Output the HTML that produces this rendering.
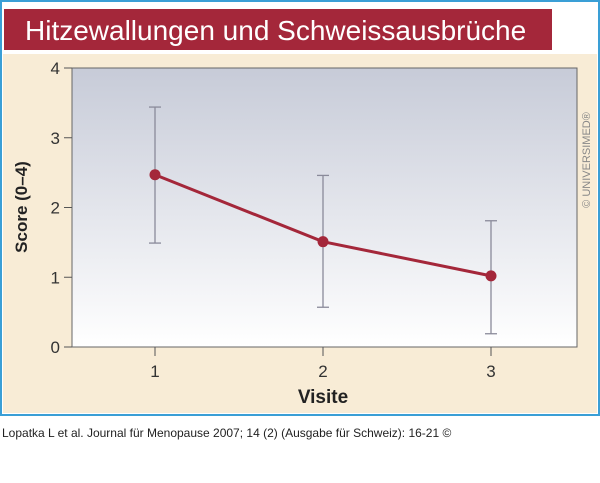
<!DOCTYPE html>
<html><head><meta charset="utf-8"><style>
body{margin:0;width:600px;height:478px;background:#fff;overflow:hidden;font-family:"Liberation Sans",sans-serif}
</style></head><body>
<svg width="600" height="478" xmlns="http://www.w3.org/2000/svg">
<defs><linearGradient id="g" x1="0" y1="0" x2="0" y2="1"><stop offset="0" stop-color="#c7cbd8"/><stop offset="1" stop-color="#ffffff"/></linearGradient></defs>
<rect x="1" y="1" width="598" height="414" fill="#fff" stroke="#3a9fd6" stroke-width="2"/>
<rect x="4" y="9" width="548" height="41" fill="#a4273a"/>
<text x="25" y="40" fill="#fff" font-size="28" font-family="Liberation Sans, sans-serif">Hitzewallungen und Schweissausbrüche</text>
<rect x="3" y="54" width="594" height="359" fill="#f8ecd6"/>
<rect x="72" y="68" width="505" height="279" fill="url(#g)" stroke="#666" stroke-width="1"/>
<text transform="translate(590,160) rotate(-90)" text-anchor="middle" font-size="11" fill="#888">© UNIVERSIMED®</text>
<g id="axes"></g><g id="marks"></g>
<text x="323" y="403" text-anchor="middle" font-size="19" font-weight="bold" fill="#222">Visite</text>
<text transform="translate(27,207) rotate(-90)" text-anchor="middle" font-size="17" font-weight="bold" fill="#222">Score (0–4)</text>
<text x="2" y="437" font-size="12" fill="#222">Lopatka L et al. Journal für Menopause 2007; 14 (2) (Ausgabe für Schweiz): 16-21 ©</text>
</svg>
<script>
const categories=["1","2","3"];
const means=[2.47,1.51,1.02];
const lows=[1.49,0.57,0.19];
const highs=[3.44,2.46,1.81];
const yTicks=[0,1,2,3,4];
const NS="http://www.w3.org/2000/svg";
const xs=i=>155+i*168, ys=v=>347-v*69.75;
function mk(t,a,p){const e=document.createElementNS(NS,t);for(const k in a)e.setAttribute(k,a[k]);p.appendChild(e);return e;}
const ax=document.getElementById('axes'),mg=document.getElementById('marks');
yTicks.forEach(v=>{
 const l=mk('line',{x1:64,x2:72,y1:ys(v),y2:ys(v),stroke:'#555'},ax);
 
 
 const t=mk('text',{x:60,y:ys(v)+6,'text-anchor':'end','font-size':17,fill:'#333'},ax);t.textContent=v;
 
 
});
categories.forEach((c,i)=>{
 const l=mk('line',{x1:xs(i),x2:xs(i),y1:347,y2:356,stroke:'#555'},ax);
 
 
 const t=mk('text',{x:xs(i),y:377,'text-anchor':'middle','font-size':17,fill:'#333'},ax);t.textContent=c;
 
 
 const g=mk('g',{stroke:'#8a8a9a','stroke-width':1.3},mg);
 
 
 mk('line',{x1:xs(i),x2:xs(i),y1:ys(lows[i]),y2:ys(highs[i])},g);
 mk('line',{x1:xs(i)-6,x2:xs(i)+6,y1:ys(lows[i]),y2:ys(lows[i])},g);
 mk('line',{x1:xs(i)-6,x2:xs(i)+6,y1:ys(highs[i]),y2:ys(highs[i])},g);
});
const ln=mk('polyline',{points:means.map((v,i)=>xs(i)+','+ys(v)).join(' '),fill:'none',stroke:'#a4273a','stroke-width':3},mg);


means.forEach((v,i)=>{
 const p=mk('circle',{cx:xs(i),cy:ys(v),r:5.5,fill:'#a4273a'},mg);
 
 
});
</script>
</body></html>
